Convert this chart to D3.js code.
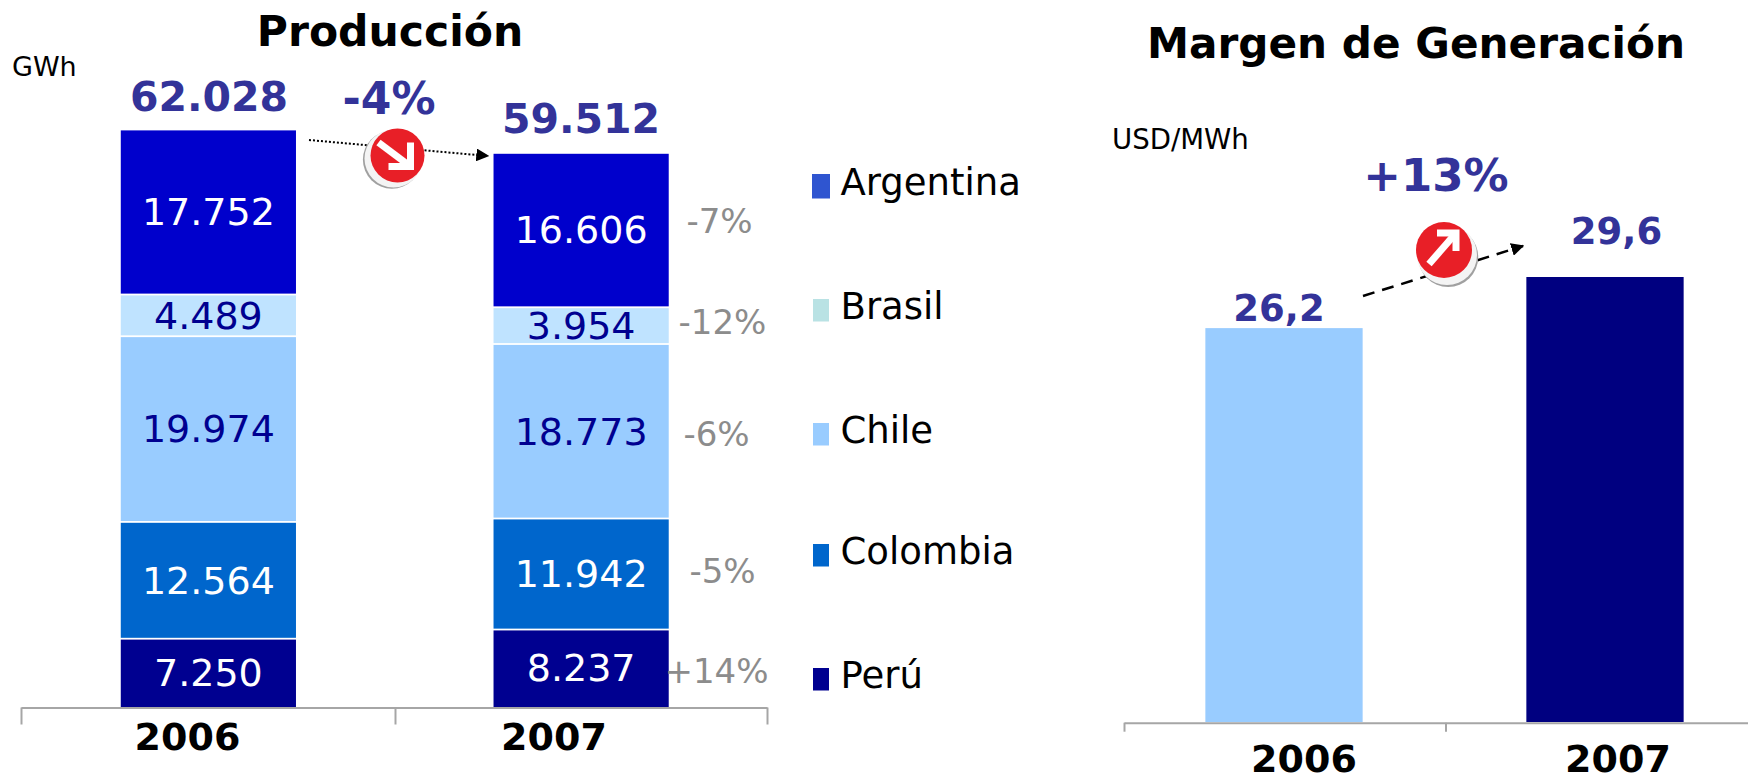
<!DOCTYPE html>
<html><head><meta charset="utf-8">
<script src="https://cdnjs.cloudflare.com/ajax/libs/d3/7.8.5/d3.min.js"></script>
<style>html,body{margin:0;padding:0;background:#fff}svg{display:block}text{font-family:"DejaVu Sans",sans-serif}</style>
</head><body><svg id="c" width="1748" height="775"></svg>
<script>
const years = ["2006", "2007"];
const countries = ["Argentina", "Brasil", "Chile", "Colombia", "Perú"];
const argentina = [17752, 16606];
const brasil = [4489, 3954];
const chile = [19974, 18773];
const colombia = [12564, 11942];
const peru = [7250, 8237];
const totals = [62028, 59512];
const changes = ["-7%", "-12%", "-6%", "-5%", "+14%"];
const margin = [26.2, 29.6];
const marginLabels = ["26,2", "29,6"];

const es = d3.format(",");
const fmt = v => es(v).replace(/,/g, ".");
const svg = d3.select("#c");
const navy = "#333399";
const segColor = ["#0000cc", "#bfe3ff", "#99ccff", "#0066cc", "#000090"];
const legColor = ["#2f55d0", "#b9e2e4", "#99ccff", "#0066cc", "#000090"];
const labColor = ["#fff", "#000090", "#000090", "#fff", "#fff"];
const series = [argentina, brasil, chile, colombia, peru];

function T(x, y, s, size, fill, weight, anchor) {
  return svg.append("text").attr("x", x).attr("y", y).text(s)
    .attr("font-size", size).attr("fill", fill)
    .attr("font-weight", weight || "normal").attr("text-anchor", anchor || "middle");
}

// ---- left stacked chart
const xL = d3.scaleBand().domain(years).range([22, 767.5]).paddingInner(0.53).paddingOuter(0.265);
const yL = d3.scaleLinear().domain([0, 62028]).range([707, 130.4]);
const rows = years.map((y, i) => {
  const r = {year: y};
  countries.forEach((c, k) => r[c] = series[k][i]);
  return r;
});
const stack = d3.stack().keys([...countries].reverse())(rows);
stack.forEach(layer => {
  const k = countries.indexOf(layer.key);
  layer.forEach(d => {
    const x = xL(d.data.year), top = yL(d[1]), bot = yL(d[0]);
    svg.append("rect").attr("x", x).attr("y", top).attr("width", xL.bandwidth())
      .attr("height", bot - top - (k === 4 ? 0 : 1.8)).attr("fill", segColor[k]);
    T(x + xL.bandwidth() / 2, (top + bot) / 2 + 12.5, fmt(d[1] - d[0]), 38, labColor[k]);
  });
});
function bracket(x0, x1, x2, y, tickLen) {
  const a = d3.scaleLinear().domain([0, 1, 2]).range([x0, x1, x2]);
  const g = svg.append("g").attr("transform", `translate(0,${y})`)
    .call(d3.axisBottom(a).tickValues([0, 1, 2]).tickFormat("").tickSize(tickLen).tickSizeOuter(0));
  g.selectAll("path,line").attr("stroke", "#a6a6a6").attr("stroke-width", 2);
}
bracket(21, 395, 767, 707.5, 17);
T(187.5, 750, years[0], 38, "#000", "bold");
T(554, 750, years[1], 38, "#000", "bold");

T(390, 46, "Producción", 42.5, "#000", "bold");
T(12, 76, "GWh", 27, "#000", "normal", "start");
totals.forEach((v, i) => T([209, 581][i], [111, 133][i], fmt(v), 41, navy, "bold"));
T(389, 114, "-4%", 44, navy, "bold");

const pctX = [719.5, 722.5, 716.5, 722.5, 716.5], pctDy = [-11, -6, 1, -5, 1];
stack.slice().reverse().forEach((layer, k) => {
  const d = layer[1];
  const y = (yL(d[0]) + yL(d[1])) / 2 + 13 + pctDy[k];
  T(pctX[k], y, changes[k], 34, "#8c8c8c");
});

// ---- legend
const legY = [174, 299, 423, 544, 668];
const legBase = [194.5, 318.5, 442.5, 563.6, 687.5];
countries.forEach((c, i) => {
  svg.append("rect").attr("x", i ? 813 : 812).attr("y", legY[i]).attr("width", i ? 16 : 18).attr("height", i ? 22.5 : 24.5).attr("fill", legColor[i]);
  T(840.5, legBase[i], c, 37, "#000", "normal", "start");
});

// ---- right chart
const xR = d3.scaleBand().domain(years).range([1123.5, 1765.5]).paddingInner(0.51).paddingOuter(0.255);
const yR = d3.scaleLinear().domain([0, 29.6]).range([722, 277]);
const mCol = ["#99ccff", "#000080"];
margin.forEach((v, i) => {
  svg.append("rect").attr("x", xR(years[i])).attr("y", yR(v)).attr("width", xR.bandwidth())
    .attr("height", yR(0) - yR(v)).attr("fill", mCol[i]);
});
bracket(1124, 1445.5, 1767, 722.7, 9);
T(1416, 58, "Margen de Generación", 42.2, "#000", "bold");
T(1112, 149, "USD/MWh", 27.6, "#000", "normal", "start");
T(1436, 190.7, "+13%", 45, navy, "bold");
T(1279, 321, marginLabels[0], 37, navy, "bold");
T(1616.5, 244, marginLabels[1], 37, navy, "bold");
T(1304, 772, years[0], 38, "#000", "bold");
T(1618, 772, years[1], 38, "#000", "bold");

// ---- trend arrows
const defs = svg.append("defs");
defs.append("marker").attr("id", "ah").attr("viewBox", "0 0 10 10").attr("refX", 9).attr("refY", 5)
  .attr("markerWidth", 13).attr("markerHeight", 13).attr("markerUnits", "userSpaceOnUse").attr("orient", "auto")
  .append("path").attr("d", "M0,0L10,5L0,10Z").attr("fill", "#000");
const line = d3.line();
svg.append("path").attr("d", line([[309, 140], [488, 156]])).attr("stroke", "#000").attr("stroke-width", 2)
  .attr("stroke-dasharray", "2 2").attr("marker-end", "url(#ah)").attr("fill", "none");
svg.append("path").attr("d", line([[1363, 296], [1523, 246]])).attr("stroke", "#000").attr("stroke-width", 2.5)
  .attr("stroke-dasharray", "12 8").attr("marker-end", "url(#ah)").attr("fill", "none");

function badge(cx, cy, r, sx, sy, tail, corner, a, b) {
  const g = svg.append("g").attr("transform", `translate(${cx},${cy})`);
  g.append("circle").attr("cx", sx * 1.4).attr("cy", sy * 1.4).attr("r", r + 2).attr("fill", "#a0a0a0");
  g.append("circle").attr("cx", sx).attr("cy", sy).attr("r", r + 2).attr("fill", "#f4f4f4");
  g.append("circle").attr("r", r).attr("fill", "#e81f27");
  g.append("path").attr("d", d3.line()([tail, corner])).attr("stroke", "#fff").attr("stroke-width", 7).attr("fill", "none");
  g.append("path").attr("d", d3.line()([a, corner, b])).attr("stroke", "#fff").attr("stroke-width", 7).attr("fill", "none").attr("stroke-linejoin", "miter");
}
badge(397.5, 155.5, 27, -4, 3, [-19, -13], [13, 11], [13, -13], [-9, 11]);
badge(1444, 250, 28, 3, 5, [-15, 14], [12, -17], [-7, -17], [12, 1]);
</script></body></html>
